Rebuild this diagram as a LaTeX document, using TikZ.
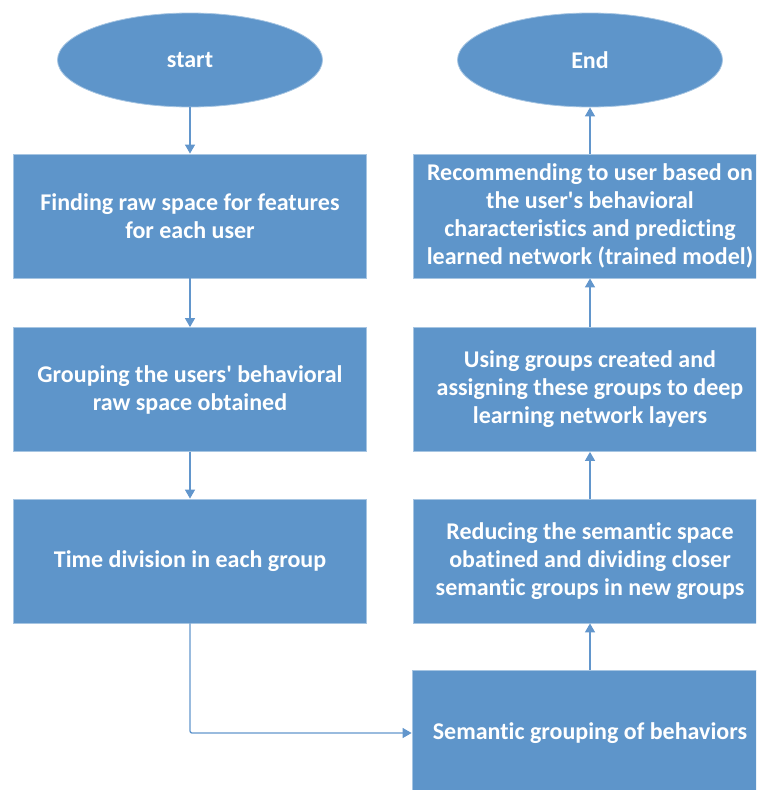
\documentclass[tikz,border=0pt]{standalone}
\usepackage{fontspec}
\setmainfont[Ligatures={NoCommon}]{Carlito}
\usetikzlibrary{shapes.geometric,arrows.meta}
\definecolor{boxblue}{RGB}{94,149,202}
\definecolor{arrowblue}{RGB}{98,150,204}
\begin{document}
\begin{tikzpicture}[x=1pt,y=-1pt,
  box/.style={rectangle, fill=boxblue, draw=boxblue!55!white, line width=0.8pt,
    text=white, font=\bfseries\fontsize{24}{28}\selectfont, align=center,
    inner sep=0pt, minimum width=353pt, minimum height=124pt},
  term/.style={ellipse, fill=boxblue, draw=boxblue!55!white, line width=0.8pt,
    text=white, font=\bfseries\fontsize{24}{28}\selectfont,
    inner sep=0pt, minimum width=265pt, minimum height=94pt},
  conn/.style={draw=arrowblue, line width=1.3pt, -{Triangle[width=10pt,length=9pt]}}]
\useasboundingbox (0,0) rectangle (756,790);
\clip (0,0) rectangle (756,790);
\node[term] (start) at (190,60) {start};
\node[box] (b1) at (190,216) {Finding raw space for features\\for each user};
\node[box] (b2) at (190,389.5) {Grouping the users\textquotesingle{} behavioral\\raw space obtained};
\node[box] (b3) at (190,561) {Time division in each group};
\node[term] (end) at (590,60) {End};
\node[box] (r1) at (590,216) {Recommending to user based on\\the user\textquotesingle s behavioral\\characteristics and predicting\\learned network (trained model)};
\node[box] (r2) at (590,389.5) {Using groups created and\\assigning these groups to deep\\learning network layers};
\node[box] (r3) at (590,561) {Reducing the semantic space\\obatined and dividing closer\\semantic groups in new groups};
\node[box, minimum height=126pt, minimum width=356pt] (r4) at (590,733) {Semantic grouping of behaviors};
\draw[conn] (start) -- (b1);
\draw[conn] (b1) -- (b2);
\draw[conn] (b2) -- (b3);
\draw[conn, rounded corners=2pt] (b3.south) |- (r4.west);
\draw[conn] (r4) -- (r3);
\draw[conn] (r3) -- (r2);
\draw[conn] (r2) -- (r1);
\draw[conn] (r1) -- (end);
\end{tikzpicture}
\end{document}
